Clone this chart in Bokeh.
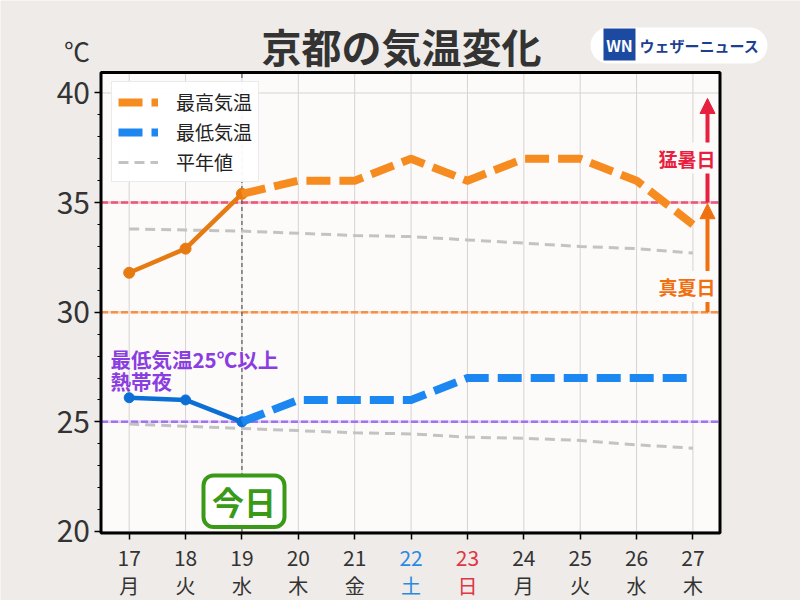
from bokeh.plotting import figure
from bokeh.models import (Range1d, FixedTicker, Label, LinearAxis, BoxAnnotation,
                          Arrow, NormalHead, Legend, LegendItem)
from bokeh.embed import file_html
from bokeh.resources import INLINE

# ---------------- data ----------------
days = [17, 18, 19, 20, 21, 22, 23, 24, 25, 26, 27]
weekdays = ["月", "火", "水", "木", "金", "土", "日", "月", "火", "水", "木"]
max_temp = [31.8, 32.9, 35.4, 36.0, 36.0, 37.0, 36.0, 37.0, 37.0, 36.0, 34.0]
min_temp = [26.1, 26.0, 25.0, 26.0, 26.0, 26.0, 27.0, 27.0, 27.0, 27.0, 27.0]
normal_max = [33.8, 33.75, 33.7, 33.6, 33.5, 33.45, 33.3, 33.15, 33.0, 32.9, 32.7]
normal_min = [24.9, 24.8, 24.7, 24.6, 24.5, 24.45, 24.3, 24.25, 24.15, 23.95, 23.8]
today = 19
y_ticks = [20, 25, 30, 35, 40]
mousho_line = 35      # 猛暑日
manatsu_line = 30     # 真夏日
nettaiya_line = 25    # 熱帯夜
mousho_arrow_top = 39.75

FONT = "Noto Sans CJK JP"
PAGE_BG = "#eeebe8"
FRAME_BG = "#fdfafa"
TXT = "#333333"

# ---------------- geometry: the whole canvas is the frame ----------------
W, H = 800, 600
BOX = (16.5, 27.48, 19.93, 40.935)          # plot box in data units (x0, x1, y0, y1)
BOX_PX = (100.5, 719.5, 72.0, 532.5)        # plot box on the canvas (left, right, top, bottom)
SX = (BOX_PX[1] - BOX_PX[0]) / (BOX[1] - BOX[0])
SY = (BOX_PX[3] - BOX_PX[2]) / (BOX[3] - BOX[2])
X0 = BOX[0] - BOX_PX[0] / SX
Y1 = BOX[3] + BOX_PX[2] / SY


def at(px, py):
    return X0 + px / SX, Y1 - py / SY


p = figure(width=W, height=H, output_backend="svg", toolbar_location=None, title=None,
           x_range=Range1d(X0, X0 + W / SX), y_range=Range1d(Y1 - H / SY, Y1),
           min_border=0, min_border_left=0, min_border_right=0,
           min_border_top=0, min_border_bottom=0)
p.background_fill_color = PAGE_BG
p.border_fill_color = PAGE_BG
p.outline_line_color = None
p.grid.visible = False

# plot box background
p.add_layout(BoxAnnotation(left=BOX[0], right=BOX[1], bottom=BOX[2], top=BOX[3],
                           fill_color=FRAME_BG, fill_alpha=1, line_color=None, level="image"))

# grid lines inside the box
p.segment(x0=days, x1=days, y0=BOX[2], y1=BOX[3], line_color="#d8d3d3", line_width=1)
p.segment(x0=BOX[0], x1=BOX[1], y0=y_ticks, y1=y_ticks, line_color="#d8d3d3", line_width=1)

# threshold lines
for lvl, light, dark in [(mousho_line, "#f3b3c0", "#e8587a"),
                         (manatsu_line, "#f9d2b4", "#f1924e"),
                         (nettaiya_line, "#dcc8fa", "#a273f0")]:
    p.segment(x0=BOX[0], x1=BOX[1], y0=lvl, y1=lvl, line_color=light, line_width=2.5)
    p.segment(x0=BOX[0], x1=BOX[1], y0=lvl, y1=lvl, line_color=dark, line_width=2.5,
              line_dash="7 3")

# today line
p.segment(x0=today, x1=today, y0=BOX[2], y1=BOX[3], line_color="#555555",
          line_width=1.2, line_dash="4 3")

# normals
r_norm = p.line(days, normal_max, line_color="#c3c3c3", line_width=3, line_dash="10 6")
p.line(days, normal_min, line_color="#c3c3c3", line_width=3, line_dash="10 6")

n_obs = days.index(today) + 1

# max temp: observed (solid) + forecast (dashed)
p.line(days[:n_obs], max_temp[:n_obs], line_color="#e67b12", line_width=4.5)
p.scatter(days[:n_obs], max_temp[:n_obs], size=11, color="#e67b12")
r_max = p.line(days[n_obs - 1:], max_temp[n_obs - 1:], line_color="#f68b1f",
               line_width=8, line_dash="24 9", line_join="round")

# min temp
p.line(days[:n_obs], min_temp[:n_obs], line_color="#0b6fd6", line_width=4.5)
p.scatter(days[:n_obs], min_temp[:n_obs], size=10, color="#0b6fd6")
r_min = p.line(days[n_obs - 1:], min_temp[n_obs - 1:], line_color="#1c87f0",
               line_width=8, line_dash="24 9", line_join="round")

# plot box border
p.add_layout(BoxAnnotation(left=BOX[0], right=BOX[1], bottom=BOX[2], top=BOX[3],
                           fill_color=None, line_color="black", line_alpha=1,
                           line_width=3, level="overlay"))

# ---------------- axes (fixed at the box edges) ----------------
yax = p.yaxis[0]
yax.fixed_location = BOX[0]
yax.ticker = FixedTicker(ticks=y_ticks, minor_ticks=list(range(20, 41)))
yax.axis_line_color = None
yax.major_label_text_font = FONT
yax.major_label_text_font_size = "30px"
yax.major_label_text_color = TXT
yax.major_label_standoff = 4
yax.major_tick_out = 7
yax.major_tick_in = 0
yax.minor_tick_out = 4
yax.minor_tick_in = 0
yax.major_tick_line_width = 1.5
yax.minor_tick_line_width = 1


def day_color(w):
    if w == "土":
        return "#2a8ae0"
    if w == "日":
        return "#e03545"
    return TXT


groups = {}
for d, w in zip(days, weekdays):
    groups.setdefault(day_color(w), []).append(d)

wd = dict(zip(days, weekdays))
first = True
for color, ds in groups.items():
    num_ax = p.xaxis[0] if first else LinearAxis()
    is_main = first
    first = False
    num_ax.fixed_location = BOX[2]
    num_ax.ticker = FixedTicker(ticks=ds)
    num_ax.axis_line_color = None
    num_ax.minor_tick_line_color = None
    num_ax.major_tick_out = 6
    num_ax.major_tick_in = 0
    num_ax.major_tick_line_width = 1.5
    num_ax.major_label_text_font = FONT
    num_ax.major_label_text_font_size = "21px"
    num_ax.major_label_text_color = color
    num_ax.major_label_standoff = 11
    if not is_main:
        p.add_layout(num_ax, "below")

    wd_ax = LinearAxis(fixed_location=BOX[2], ticker=FixedTicker(ticks=ds),
                       major_label_overrides={d: wd[d] for d in ds})
    wd_ax.axis_line_color = None
    wd_ax.minor_tick_line_color = None
    wd_ax.major_tick_line_color = None
    wd_ax.major_tick_out = 0
    wd_ax.major_tick_in = 0
    wd_ax.major_label_text_font = FONT
    wd_ax.major_label_text_font_size = "20px"
    wd_ax.major_label_text_color = color
    wd_ax.major_label_standoff = 38
    p.add_layout(wd_ax, "below")

# ---------------- legend ----------------
legend = Legend(items=[LegendItem(label="最高気温", renderers=[r_max]),
                       LegendItem(label="最低気温", renderers=[r_min]),
                       LegendItem(label="平年値", renderers=[r_norm])],
                location=(111, 418), margin=0, padding=6, spacing=3,
                glyph_width=40, glyph_height=20, label_standoff=18,
                label_text_font=FONT, label_text_font_size="19px",
                label_text_color="#222222",
                border_line_color="#d8d8d8", border_line_width=1,
                background_fill_color="white", background_fill_alpha=0.95)
p.add_layout(legend)


# ---------------- texts ----------------
def text_at(px, py, text, size, color, bold=False, align="left", **kw):
    x, y = at(px, py)
    p.add_layout(Label(x=x, y=y, text=text, text_font=FONT, text_font_size=f"{size}px",
                       text_font_style="bold" if bold else "normal", text_color=color,
                       text_align=align, text_baseline="middle", **kw))


def box_at(l, r, t, b, **kw):
    x0, y0 = at(l, b)
    x1, y1 = at(r, t)
    p.add_layout(BoxAnnotation(left=x0, right=x1, bottom=y0, top=y1, fill_alpha=1,
                               line_alpha=1, level="annotation", **kw))


# arrows for 真夏日 / 猛暑日
arrow_x = at(707, 0)[0]
p.add_layout(Arrow(end=NormalHead(size=15, fill_color="#e8203f", line_color="#e8203f"),
                   x_start=arrow_x, y_start=mousho_line, x_end=arrow_x, y_end=mousho_arrow_top,
                   line_color="#e8203f", line_width=4))
p.add_layout(Arrow(end=NormalHead(size=15, fill_color="#f07010", line_color="#f07010"),
                   x_start=arrow_x, y_start=manatsu_line, x_end=arrow_x, y_end=mousho_line - 0.05,
                   line_color="#f07010", line_width=4))
text_at(717, 157.5, "猛暑日", 19, "#e8203f", bold=True, align="right",
        background_fill_color=FRAME_BG, padding=2)
text_at(717, 286, "真夏日", 19, "#f07010", bold=True, align="right",
        background_fill_color=FRAME_BG, padding=2)

# 熱帯夜 note
text_at(110, 358, "最低気温25℃以上", 20.5, "#8a3de0", bold=True)
text_at(110, 380, "熱帯夜", 20.5, "#8a3de0", bold=True)

# today badge
box_at(203, 284, 475, 526.5, fill_color="white", line_color="#3a9a18",
       line_width=4, border_radius=10)
text_at(243.5, 500, "今日", 32, "#3a9a18", bold=True, align="center")

# title and unit
text_at(401, 45, "京都の気温変化", 40, TXT, bold=True, align="center")
text_at(76.5, 50, "℃", 26, TXT, align="center")

# logo
box_at(590, 767, 27, 63, fill_color="white", line_color=None, border_radius=18)
box_at(603, 635, 28, 60, fill_color="#1b4aa0", line_color=None)
text_at(619, 44, "WN", 16, "white", bold=True, align="center")
text_at(639, 45, "ウェザーニュース", 15, "#1d3f8f", bold=True)

open("out.html", "w").write(file_html(p, INLINE))
